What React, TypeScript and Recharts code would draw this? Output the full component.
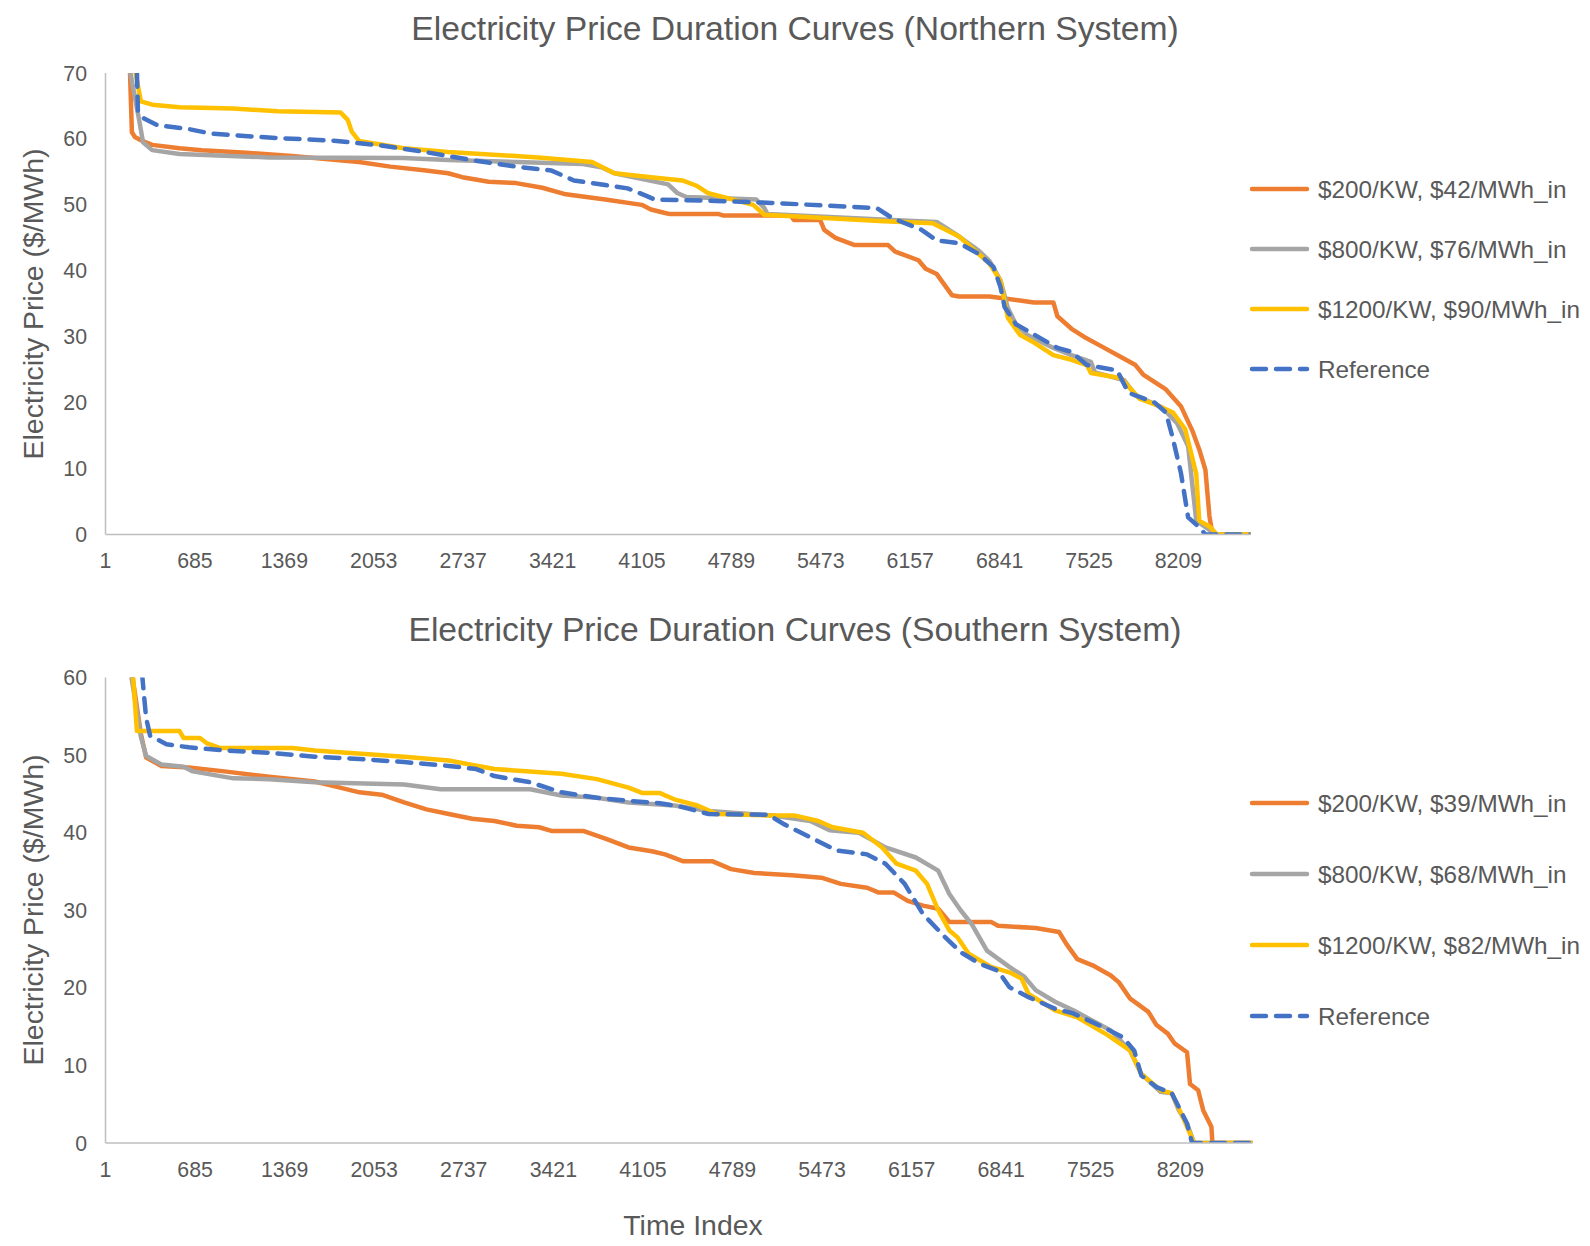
import React from 'react';
import { LineChart, Line, XAxis, YAxis } from 'recharts';

type Pt = [number, number];

const hourTicks = [1, 685, 1369, 2053, 2737, 3421, 4105, 4789, 5473, 6157, 6841, 7525, 8209];
const northPriceTicks = [0, 10, 20, 30, 40, 50, 60, 70];
const southPriceTicks = [0, 10, 20, 30, 40, 50, 60];

const northNames = ['$200/KW, $42/MWh_in', '$800/KW, $76/MWh_in', '$1200/KW, $90/MWh_in', 'Reference'];
const southNames = ['$200/KW, $39/MWh_in', '$800/KW, $68/MWh_in', '$1200/KW, $82/MWh_in', 'Reference'];

// Northern system: [hour index, price $/MWh]
const north200: Pt[] = [
  [1, 150], [187, 71], [203, 61], [226, 60.3], [272, 59.8], [358, 59.1], [567, 58.6], [738, 58.3],
  [1079, 57.9], [1428, 57.4], [1940, 56.5], [2180, 55.8], [2452, 55.2], [2622, 54.8], [2731, 54.2],
  [2932, 53.5], [3142, 53.3], [3343, 52.6], [3522, 51.6], [3824, 50.8], [4103, 50.0], [4173, 49.3],
  [4274, 48.8], [4320, 48.6], [4693, 48.6], [4724, 48.4], [5243, 48.4], [5267, 47.7], [5468, 47.7],
  [5499, 46.2], [5585, 45.0], [5732, 43.9], [5988, 43.9], [6042, 42.9], [6220, 41.6], [6275, 40.3],
  [6360, 39.5], [6476, 36.3], [6531, 36.1], [6763, 36.1], [6996, 35.5], [7104, 35.2], [7252, 35.2],
  [7283, 33.1], [7391, 31.2], [7485, 30.0], [7624, 28.5], [7772, 26.9], [7880, 25.7], [7942, 24.2],
  [8113, 22.0], [8229, 19.4], [8314, 15.8], [8368, 12.9], [8415, 9.8], [8446, 2.8], [8469, 0], [8760, 0],
];
const north800: Pt[] = [
  [1, 150], [187, 70.5], [257, 63], [288, 59.5], [358, 58.3], [567, 57.7], [1250, 57.2], [2281, 57.1],
  [2622, 56.8], [3654, 56.2], [3793, 55.7], [3894, 54.8], [4305, 53.1], [4375, 51.8], [4445, 51.2],
  [4980, 50.8], [5042, 49.5], [5065, 48.6], [6019, 47.7], [6360, 47.4], [6531, 45.2], [6678, 43.1],
  [6763, 41.5], [6848, 38.5], [6903, 34.4], [6965, 31.9], [7050, 30.3], [7252, 28.3], [7391, 27.2],
  [7539, 26.2], [7570, 24.6], [7795, 23.4], [7880, 21.1], [8082, 19.3], [8198, 16.9], [8283, 13.4],
  [8314, 7.7], [8345, 2.1], [8454, 0.6], [8485, 0], [8760, 0],
];
const north1200: Pt[] = [
  [1, 150], [226, 70.5], [272, 65.7], [358, 65.2], [567, 64.8], [978, 64.6], [1319, 64.2], [1800, 64.0],
  [1854, 62.9], [1885, 61.1], [1940, 59.7], [2281, 58.6], [2622, 58.0], [3312, 57.2], [3723, 56.5],
  [3894, 54.8], [4173, 54.2], [4414, 53.7], [4522, 52.9], [4607, 51.8], [4956, 50.0], [5042, 48.5],
  [5957, 47.5], [6329, 47.2], [6531, 45.2], [6678, 42.6], [6763, 41.1], [6848, 38.5], [6903, 32.9],
  [6996, 30.3], [7104, 29.1], [7252, 27.2], [7391, 26.5], [7508, 25.7], [7539, 24.5], [7772, 23.7],
  [7911, 20.6], [8058, 19.5], [8167, 18.5], [8260, 16.0], [8345, 9.2], [8368, 2.1], [8454, 1.1],
  [8500, 0], [8760, 0],
];
const northRef: Pt[] = [
  [1, 150], [241, 70.5], [249, 64.2], [296, 63.1], [396, 62.1], [637, 61.5], [808, 60.8], [1250, 60.2],
  [1769, 59.7], [2110, 59.0], [2452, 58.0], [2801, 56.8], [3142, 55.8], [3413, 55.2], [3584, 53.7],
  [3995, 52.5], [4134, 51.4], [4204, 50.8], [4669, 50.6], [5096, 50.3], [5902, 49.5], [6019, 48.0],
  [6244, 46.2], [6360, 44.6], [6531, 44.2], [6678, 42.6], [6794, 40.6], [6848, 37.5], [6879, 34.5],
  [6965, 31.9], [7081, 30.6], [7283, 28.3], [7391, 27.7], [7508, 25.7], [7740, 24.9], [7826, 21.5],
  [8027, 20.0], [8113, 18.5], [8167, 14.5], [8229, 9.2], [8283, 2.6], [8368, 1.1], [8415, 0], [8760, 0],
];

// Southern system
const south200: Pt[] = [
  [1, 150], [203, 60.5], [272, 52.7], [311, 49.7], [428, 48.6], [637, 48.4], [908, 47.9], [1250, 47.2],
  [1599, 46.6], [1769, 45.9], [1940, 45.2], [2110, 44.9], [2281, 43.9], [2452, 43.0], [2622, 42.4],
  [2801, 41.8], [2971, 41.5], [3142, 40.9], [3312, 40.7], [3413, 40.2], [3654, 40.2], [3824, 39.2],
  [3995, 38.1], [4173, 37.6], [4274, 37.2], [4414, 36.3], [4638, 36.3], [4778, 35.3], [4956, 34.8],
  [5243, 34.5], [5468, 34.2], [5616, 33.4], [5817, 32.9], [5902, 32.3], [6019, 32.3], [6127, 31.2],
  [6244, 30.6], [6360, 30.2], [6445, 28.5], [6763, 28.5], [6817, 28.0], [7104, 27.7], [7283, 27.2],
  [7337, 25.7], [7422, 23.7], [7539, 22.9], [7678, 21.6], [7740, 20.7], [7826, 18.6], [7965, 16.9],
  [8027, 15.2], [8113, 14.1], [8167, 12.8], [8260, 11.7], [8283, 7.6], [8345, 6.8], [8384, 4.2],
  [8446, 2.1], [8454, 0], [8760, 0],
];
const south800: Pt[] = [
  [1, 150], [195, 60.5], [272, 52.3], [311, 49.9], [428, 48.8], [598, 48.5], [668, 47.9], [978, 47.0],
  [1250, 46.9], [1599, 46.5], [2281, 46.2], [2560, 45.6], [3243, 45.6], [3483, 44.8], [3754, 44.5],
  [3995, 43.9], [4344, 43.5], [4607, 42.8], [5096, 42.2], [5383, 41.5], [5530, 40.3], [5755, 40.0],
  [5957, 38.1], [6189, 36.8], [6360, 35.1], [6445, 32.1], [6531, 30.0], [6616, 28.2], [6732, 24.8],
  [6903, 22.7], [7019, 21.4], [7104, 19.7], [7252, 18.2], [7391, 17.1], [7678, 14.5], [7826, 11.9],
  [7911, 8.9], [8058, 6.6], [8144, 6.4], [8198, 4.2], [8260, 2.5], [8314, 0], [8760, 0],
];
const south1200: Pt[] = [
  [1, 150], [210, 60.5], [241, 53.1], [567, 53.1], [598, 52.2], [722, 52.2], [777, 51.5], [877, 50.9],
  [1428, 50.9], [1599, 50.6], [2281, 49.8], [2622, 49.3], [2971, 48.2], [3483, 47.6], [3754, 46.9],
  [3995, 45.8], [4103, 45.1], [4235, 45.1], [4344, 44.3], [4522, 43.5], [4669, 42.4], [5096, 42.2],
  [5267, 42.2], [5445, 41.5], [5554, 40.7], [5786, 40.0], [5932, 38.1], [6042, 36.0], [6189, 35.1],
  [6275, 33.4], [6360, 30.0], [6445, 27.4], [6508, 26.5], [6593, 24.4], [6763, 22.7], [6903, 22.0],
  [6996, 21.2], [7050, 19.2], [7252, 17.1], [7422, 16.2], [7655, 13.9], [7826, 11.9], [7911, 8.9],
  [8058, 6.8], [8144, 6.4], [8229, 3.3], [8314, 0], [8760, 0],
];
const southRef: Pt[] = [
  [1, 150], [280, 60.5], [311, 54.8], [342, 52.5], [466, 51.4], [637, 51.0], [908, 50.6], [1250, 50.3],
  [1599, 49.8], [1940, 49.5], [2281, 49.1], [2622, 48.6], [2832, 48.2], [2971, 47.3], [3243, 46.5],
  [3483, 45.2], [3754, 44.5], [3995, 44.1], [4235, 43.8], [4406, 43.3], [4607, 42.4], [5065, 42.3],
  [5181, 41.1], [5383, 39.4], [5585, 37.7], [5817, 37.2], [5957, 36.0], [6104, 33.4], [6244, 29.5],
  [6414, 26.5], [6531, 24.6], [6678, 23.1], [6817, 22.2], [6903, 20.1], [7050, 18.8], [7252, 17.3],
  [7391, 16.7], [7624, 14.9], [7772, 13.6], [7857, 11.9], [7911, 8.7], [8027, 7.2], [8144, 6.4],
  [8198, 4.6], [8260, 2.5], [8299, 0], [8760, 0],
];

const COLORS = ['#ED7D31', '#A5A5A5', '#FFC000', '#4472C4'];
const TXT = '#595959';
const AXIS = '#BFBFBF';
const FONT = '"Liberation Sans", Arial, Helvetica, sans-serif';
const DASH = '14 10';
const LINE_W = 4.5;

const toRows = (pts: Pt[]) => pts.map(([h, p]) => ({ h, p }));

type ChartProps = {
  top: number;
  series: Pt[][];
  names: string[];
  yMax: number;
  yTicks: number[];
  margin: { top: number; right: number; bottom: number; left: number };
};

function DurationChart({ top, series, names, yMax, yTicks, margin }: ChartProps) {
  const tickStyle = { fill: TXT, fontSize: 21.3, fontFamily: FONT };
  return (
    <div style={{ position: 'absolute', left: 0, top, width: 1590, height: 600 }}>
      <LineChart width={1590} height={600} margin={margin}>
        <XAxis
          type="number"
          dataKey="h"
          domain={[1, 8760]}
          ticks={hourTicks}
          interval={0}
          allowDataOverflow
          tickLine={false}
          axisLine={{ stroke: AXIS, strokeWidth: 1.5 }}
          tick={tickStyle}
          tickMargin={12.5}
          height={40}
        />
        <YAxis
          type="number"
          domain={[0, yMax]}
          ticks={yTicks}
          interval={0}
          allowDataOverflow
          tickLine={false}
          axisLine={{ stroke: AXIS, strokeWidth: 1.5 }}
          tick={tickStyle}
          tickMargin={12.5}
          width={105.5}
        />
        {series.map((s, i) => (
          <Line
            key={names[i]}
            name={names[i]}
            data={toRows(s)}
            dataKey="p"
            type="linear"
            stroke={COLORS[i]}
            strokeWidth={LINE_W}
            strokeDasharray={i === 3 ? DASH : undefined}
            strokeLinecap="round"
            strokeLinejoin="round"
            dot={false}
            activeDot={false}
            isAnimationActive={false}
          />
        ))}
      </LineChart>
    </div>
  );
}

function LegendBlock({ names, centers }: { names: string[]; centers: number[] }) {
  return (
    <g>
      {names.map((n, i) => (
        <g key={n}>
          <line
            x1={1252}
            x2={1307}
            y1={centers[i]}
            y2={centers[i]}
            stroke={COLORS[i]}
            strokeWidth={LINE_W}
            strokeLinecap="round"
            strokeDasharray={i === 3 ? DASH : undefined}
          />
          <text x={1318} y={centers[i] + 8.7} fontSize={24.3} fill={TXT} fontFamily={FONT}>
            {n}
          </text>
        </g>
      ))}
    </g>
  );
}

export default function App() {
  return (
    <div style={{ position: 'absolute', left: 0, top: 0, width: 1590, height: 1246, background: '#fff' }}>
      <DurationChart
        top={0}
        series={[north200, north800, north1200, northRef]}
        names={northNames}
        yMax={70}
        yTicks={northPriceTicks}
        margin={{ top: 73, right: 339.5, bottom: 25.5, left: 0 }}
      />
      <DurationChart
        top={605}
        series={[south200, south800, south1200, southRef]}
        names={southNames}
        yMax={60}
        yTicks={southPriceTicks}
        margin={{ top: 72.5, right: 337.5, bottom: 22, left: 0 }}
      />
      <svg
        width={1590}
        height={1246}
        style={{ position: 'absolute', left: 0, top: 0, pointerEvents: 'none' }}
      >
        <text x={795} y={40} textAnchor="middle" fontSize={33.7} fill={TXT} fontFamily={FONT}>
          Electricity Price Duration Curves (Northern System)
        </text>
        <text x={795} y={640.5} textAnchor="middle" fontSize={33.7} fill={TXT} fontFamily={FONT}>
          Electricity Price Duration Curves (Southern System)
        </text>
        <text
          x={0}
          y={0}
          transform="translate(43 304) rotate(-90)"
          textAnchor="middle"
          fontSize={28.4}
          fill={TXT}
          fontFamily={FONT}
        >
          Electricity Price ($/MWh)
        </text>
        <text
          x={0}
          y={0}
          transform="translate(43 910) rotate(-90)"
          textAnchor="middle"
          fontSize={28.4}
          fill={TXT}
          fontFamily={FONT}
        >
          Electricity Price ($/MWh)
        </text>
        <text x={693} y={1235} textAnchor="middle" fontSize={28.4} fill={TXT} fontFamily={FONT}>
          Time Index
        </text>
        <LegendBlock names={northNames} centers={[189, 249, 309, 369]} />
        <LegendBlock names={southNames} centers={[803, 874, 945, 1016]} />
      </svg>
    </div>
  );
}
